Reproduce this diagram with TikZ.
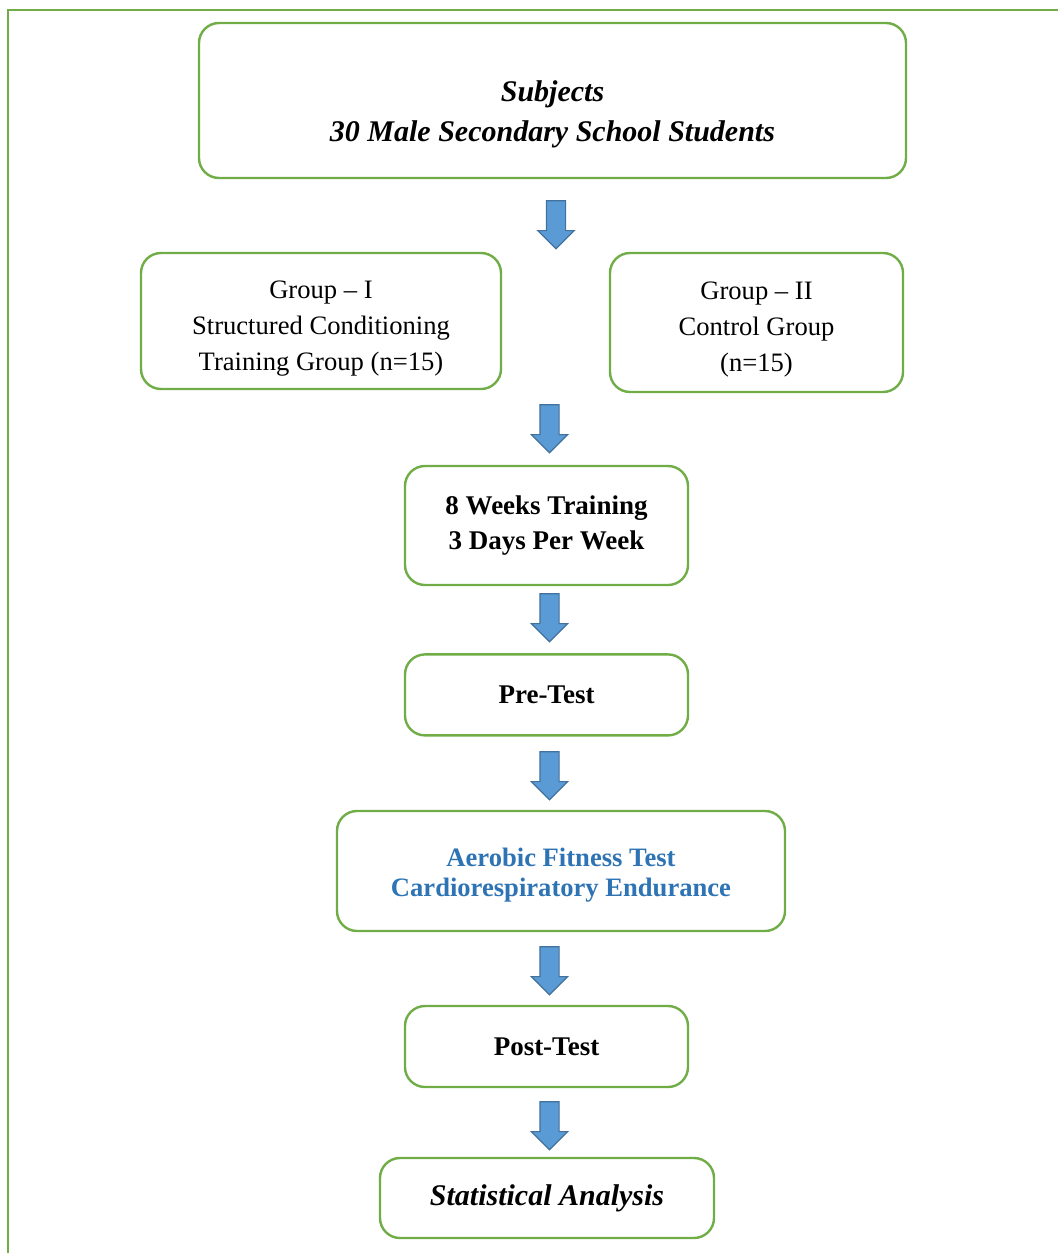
\documentclass[tikz,border=0pt]{standalone}
\usepackage{fontspec}
\setmainfont{Liberation Serif}
\usepackage{xcolor}
\usepackage{tikz}
\usetikzlibrary{positioning,shapes.arrows}

\definecolor{boxgreen}{RGB}{112,173,71}
\definecolor{arrowblue}{RGB}{91,155,213}
\definecolor{arrowedge}{RGB}{65,113,156}
\definecolor{textblue}{RGB}{46,116,181}

\begin{document}
\begin{tikzpicture}[x=0.5pt,y=-0.5pt]

\tikzstyle{box}=[draw=boxgreen,line width=1.2pt,rounded corners=10pt,align=center,inner sep=0pt]
\tikzstyle{midbox}=[box,minimum width=141.5pt]
\tikzstyle{downarrow}=[single arrow,draw=arrowedge,fill=arrowblue,line width=0.6pt,
  shape border rotate=270,minimum height=24pt,minimum width=18pt,inner sep=4.5pt,
  single arrow head extend=4.3pt,single arrow tip angle=90]
\tikzset{fancy/.style={font=\fontsize{15}{20}\selectfont\bfseries\itshape},
  plain/.style={font=\fontsize{13.3}{18}\selectfont},
  heavy/.style={font=\fontsize{13.5}{17.5}\selectfont\bfseries}}

\useasboundingbox (0,0) rectangle (1058,1253);

% outer frame
\draw[boxgreen,line width=1.2pt] (1058,10) -- (8,10) -- (8,1253);

\node[box,fancy,minimum width=353.5pt,minimum height=77.5pt] (subj) at (552.5,100.5)
  {\rule{0pt}{24pt}Subjects\\30 Male Secondary School Students};

\node[box,plain,minimum width=180pt,minimum height=68pt] (g1) at (321,321)
  {\rule{0pt}{16pt}Group -- I\\Structured Conditioning\\Training Group (n=15)};
\node[box,plain,minimum width=146.5pt,minimum height=69.5pt] (g2) at (756.5,322.5)
  {\rule{0pt}{16pt}Group -- II\\Control Group\\(n=15)};

\node[midbox,heavy,minimum height=59.5pt] (weeks) at (546.5,525.5)
  {8 Weeks Training\\3 Days Per Week};
\node[midbox,heavy,minimum height=40.5pt,below=33.5pt of weeks] (pre)
  {Pre-Test};
\node[box,heavy,minimum width=224pt,minimum height=60pt,text=textblue,
  font=\fontsize{13.3}{15}\selectfont\bfseries] (aero) at (561,871)
  {\rule{0pt}{13pt}Aerobic Fitness Test\\Cardiorespiratory Endurance};
\node[midbox,heavy,minimum height=40.5pt] (post) at (546.5,1046.5)
  {Post-Test};
\node[box,fancy,minimum width=167pt,minimum height=40pt] (stat) at (547,1198)
  {Statistical Analysis};

% block arrows
\node[downarrow] (a1) at (556,220) {};
\node[downarrow] (a2) at (549.5,424) {};
\node[downarrow] (a3) at (549.5,613) {};
\node[downarrow] (a4) at (549.5,771) {};
\node[downarrow] (a5) at (549.5,966) {};
\node[downarrow] (a6) at (549.5,1121) {};

\end{tikzpicture}
\end{document}
